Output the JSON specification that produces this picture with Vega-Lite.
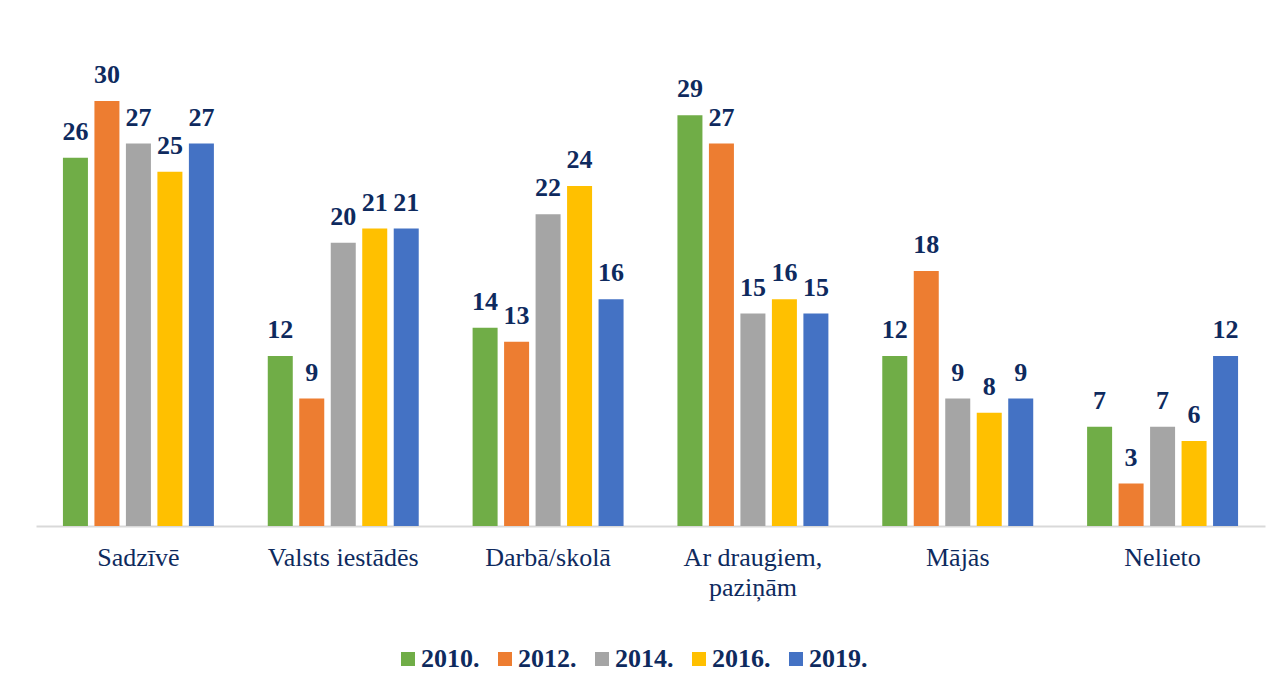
{
  "$schema": "https://vega.github.io/schema/vega-lite/v6.json",
  "width": 1229,
  "height": 425,
  "autosize": {"type": "none"},
  "padding": {"left": 36, "top": 101, "right": 20, "bottom": 169},
  "background": "white",
  "config": {"view": {"stroke": null}, "font": "Liberation Serif"},
  "data": {
    "values": [
      {"cat": "Sadzīvē", "year": "2010.", "v": 26},
      {"cat": "Sadzīvē", "year": "2012.", "v": 30},
      {"cat": "Sadzīvē", "year": "2014.", "v": 27},
      {"cat": "Sadzīvē", "year": "2016.", "v": 25},
      {"cat": "Sadzīvē", "year": "2019.", "v": 27},
      {"cat": "Valsts iestādēs", "year": "2010.", "v": 12},
      {"cat": "Valsts iestādēs", "year": "2012.", "v": 9},
      {"cat": "Valsts iestādēs", "year": "2014.", "v": 20},
      {"cat": "Valsts iestādēs", "year": "2016.", "v": 21},
      {"cat": "Valsts iestādēs", "year": "2019.", "v": 21},
      {"cat": "Darbā/skolā", "year": "2010.", "v": 14},
      {"cat": "Darbā/skolā", "year": "2012.", "v": 13},
      {"cat": "Darbā/skolā", "year": "2014.", "v": 22},
      {"cat": "Darbā/skolā", "year": "2016.", "v": 24},
      {"cat": "Darbā/skolā", "year": "2019.", "v": 16},
      {"cat": "Ar draugiem, paziņām", "year": "2010.", "v": 29},
      {"cat": "Ar draugiem, paziņām", "year": "2012.", "v": 27},
      {"cat": "Ar draugiem, paziņām", "year": "2014.", "v": 15},
      {"cat": "Ar draugiem, paziņām", "year": "2016.", "v": 16},
      {"cat": "Ar draugiem, paziņām", "year": "2019.", "v": 15},
      {"cat": "Mājās", "year": "2010.", "v": 12},
      {"cat": "Mājās", "year": "2012.", "v": 18},
      {"cat": "Mājās", "year": "2014.", "v": 9},
      {"cat": "Mājās", "year": "2016.", "v": 8},
      {"cat": "Mājās", "year": "2019.", "v": 9},
      {"cat": "Nelieto", "year": "2010.", "v": 7},
      {"cat": "Nelieto", "year": "2012.", "v": 3},
      {"cat": "Nelieto", "year": "2014.", "v": 7},
      {"cat": "Nelieto", "year": "2016.", "v": 6},
      {"cat": "Nelieto", "year": "2019.", "v": 12}
    ]
  },
  "encoding": {
    "x": {
      "field": "cat",
      "type": "nominal",
      "sort": null,
      "scale": {"paddingInner": 0.263, "paddingOuter": 0.1315},
      "axis": {
        "title": null,
        "labelAngle": 0,
        "labelFontSize": 26,
        "labelColor": "#0E2A5E",
        "labelPadding": 18,
        "labelLineHeight": 30,
        "labelExpr": "datum.label == 'Ar draugiem, paziņām' ? ['Ar draugiem,', 'paziņām'] : datum.label",
        "ticks": false,
        "domainColor": "#D9D9D9",
        "domainWidth": 2,
        "grid": false
      }
    },
    "xOffset": {
      "field": "year",
      "type": "nominal",
      "scale": {"paddingInner": 0.206, "paddingOuter": 0}
    },
    "y": {
      "field": "v",
      "type": "quantitative",
      "scale": {"domain": [0, 30], "nice": false},
      "axis": null
    }
  },
  "layer": [
    {
      "mark": {"type": "bar"},
      "encoding": {
        "color": {
          "field": "year",
          "type": "nominal",
          "scale": {"range": ["#70AD47", "#ED7D31", "#A5A5A5", "#FFC000", "#4472C4"]},
          "legend": {
            "title": null,
            "orient": "none",
            "direction": "horizontal",
            "legendX": 359,
            "legendY": 545,
            "symbolType": "square",
            "symbolSize": 196,
            "symbolStrokeWidth": 0,
            "symbolOpacity": 1,
            "labelFontSize": 26,
            "labelFontWeight": "bold",
            "labelColor": "#0E2A5E",
            "labelOffset": 0,
            "columnPadding": 12,
            "labelLimit": 200
          }
        }
      }
    },
    {
      "mark": {"type": "text", "fontSize": 26, "fontWeight": "bold", "color": "#0E2A5E", "baseline": "alphabetic", "dy": -18},
      "encoding": {"text": {"field": "v", "type": "quantitative"}}
    }
  ]
}
